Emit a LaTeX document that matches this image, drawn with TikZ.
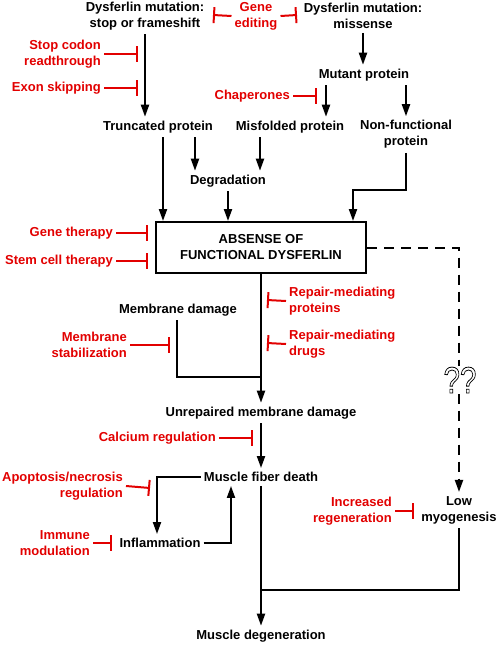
\documentclass[tikz,border=0pt]{standalone}
\usepackage{fontspec}
\setmainfont{Liberation Sans}
\usetikzlibrary{arrows.meta}
\definecolor{myred}{RGB}{226,0,0}
\begin{document}
\begin{tikzpicture}[x=1pt,y=-1pt,
  txt/.style={font=\bfseries\fontsize{13}{16}\selectfont, inner xsep=3pt, inner ysep=4pt, align=center},
  rtxt/.style={txt, text=myred},
  ln/.style={line width=2pt},
  arr/.style={ln, -{Triangle[width=8pt,length=12pt]}},
  inh/.style={myred, line width=2pt, -{Bar[width=16pt]}},
  dashln/.style={arr, dash pattern=on 10pt off 7pt}]
\useasboundingbox (0,0) rectangle (497,646);

% nodes
\node[txt] (dsf) at (145,16) {Dysferlin mutation:\\stop or frameshift};
\node[rtxt] (ge) at (256,16) {Gene\\editing};
\node[txt] (dms) at (363,16) {Dysferlin mutation:\\missense};
\node[txt] (mut) at (364,75) {Mutant protein};
\node[rtxt, anchor=east] (chap) at (293,96) {Chaperones};
\node[txt] (trunc) at (158,127) {Truncated protein};
\node[txt] (misf) at (290,127) {Misfolded protein};
\node[txt] (nonf) at (406,134.5) {Non-functional\\protein};
\node[txt] (degr) at (228,181) {Degradation};
\node[txt, draw, line width=2pt, minimum width=210pt, minimum height=51pt] (box) at (261,247.5) {ABSENSE OF\\FUNCTIONAL DYSFERLIN};
\node[rtxt, anchor=east, align=right] (scr) at (104,54) {Stop codon\\readthrough};
\node[rtxt, anchor=east] (exs) at (104,88) {Exon skipping};
\node[rtxt, anchor=east] (gth) at (116,233) {Gene therapy};
\node[rtxt, anchor=east] (sct) at (116,261) {Stem cell therapy};
\node[txt] (memd) at (178,310) {Membrane damage};
\node[rtxt, anchor=east, align=right] (mst) at (130,345) {Membrane\\stabilization};
\node[rtxt, anchor=west, align=left] (rmp) at (286,301) {Repair-mediating\\proteins};
\node[rtxt, anchor=west, align=left] (rmd) at (286,344) {Repair-mediating\\drugs};
\node[txt] (unr) at (261,413) {Unrepaired membrane damage};
\node[rtxt, anchor=east] (calc) at (219,438) {Calcium regulation};
\node[txt] (mfd) at (261,477) {Muscle fiber death};
\node[rtxt, anchor=east, align=right] (apo) at (126,486) {Apoptosis/necrosis\\regulation};
\node[txt] (infl) at (160,543) {Inflammation};
\node[rtxt, anchor=east, align=right] (imm) at (93,543) {Immune\\modulation};
\node[txt] (low) at (459,510) {Low\\myogenesis};
\node[rtxt, anchor=east, align=right] (inc) at (395,511) {Increased\\regeneration};
\node[txt] (mdeg) at (261,636) {Muscle degeneration};

% helper coordinates
\coordinate (c326) at (326,0);
\coordinate (c195) at (195,0);
\coordinate (c260) at (260,0);
\coordinate (c163) at (163,0);
\coordinate (c157) at (157,0);
\coordinate (c231) at (231,0);
\coordinate (k1) at (353,190);
\coordinate (j1) at (261,377);
\coordinate (j2) at (261,590);
% inhibition bar ends
\coordinate (bge1) at (213,15);
\coordinate (bge2) at (297,15);
\coordinate (bchap) at (317,96);
\coordinate (bscr) at (138,54);
\coordinate (bexs) at (138,88);
\coordinate (bgth) at (148,233);
\coordinate (bsct) at (148,261);
\coordinate (bmst) at (170,345);
\coordinate (brmp) at (267,300);
\coordinate (brmd) at (267,343);
\coordinate (bcalc) at (253,438);
\coordinate (bapo) at (150,488);
\coordinate (bimm) at (112,543);
\coordinate (binc) at (414,511);

% black connectors
\draw[arr] (dsf.south) -- (dsf.south |- trunc.north);
\draw[arr] (dms.south) -- (dms.south |- mut.north);
\draw[arr] (mut.south -| c326) -- (misf.north -| c326);
\draw[arr] (mut.south -| nonf) -- (nonf.north);
\draw[arr] (trunc.south -| c195) -- (degr.north -| c195);
\draw[arr] (misf.south -| c260) -- (degr.north -| c260);
\draw[arr] (trunc.south -| c163) -- (box.north -| c163);
\draw[arr] (degr.south) -- (degr.south |- box.north);
\draw[arr] (nonf.south) |- (k1) -- (k1 |- box.north);
\draw[arr] (box.south) -- (unr.north);
\draw[ln] (memd.south) ++(-1,0) |- (j1);
\draw[arr] (unr.south) -- (mfd.north);
\draw[arr] (mfd.west) -| (infl.north -| c157);
\draw[arr] (infl.east) -| (c231 |- mfd.south);
\draw[arr] (mfd.south) -- (mdeg.north);
\draw[dashln] (box.east) -| (low.north);
\draw[ln] (low.south) |- (j2);

% question marks
\node[inner sep=1pt, fill=white, font=\fontsize{37}{37}\selectfont, xscale=0.8] (qq) at (460,380)
  {\special{pdf:literal direct 1 Tr 0.8 w}??\special{pdf:literal direct 0 Tr}};

% inhibitions
\draw[inh] (ge.west) -- (bge1);
\draw[inh] (ge.east) -- (bge2);
\draw[inh] (chap.east) -- (bchap);
\draw[inh] (scr.east) -- (bscr);
\draw[inh] (exs.east) -- (bexs);
\draw[inh] (gth.east) -- (bgth);
\draw[inh] (sct.east) -- (bsct);
\draw[inh] (mst.east) -- (bmst);
\draw[inh] (rmp.west) -- (brmp);
\draw[inh] (rmd.west) -- (brmd);
\draw[inh] (calc.east) -- (bcalc);
\draw[inh] (apo.east) -- (bapo);
\draw[inh] (imm.east) -- (bimm);
\draw[inh] (inc.east) -- (binc);
\end{tikzpicture}
\end{document}
